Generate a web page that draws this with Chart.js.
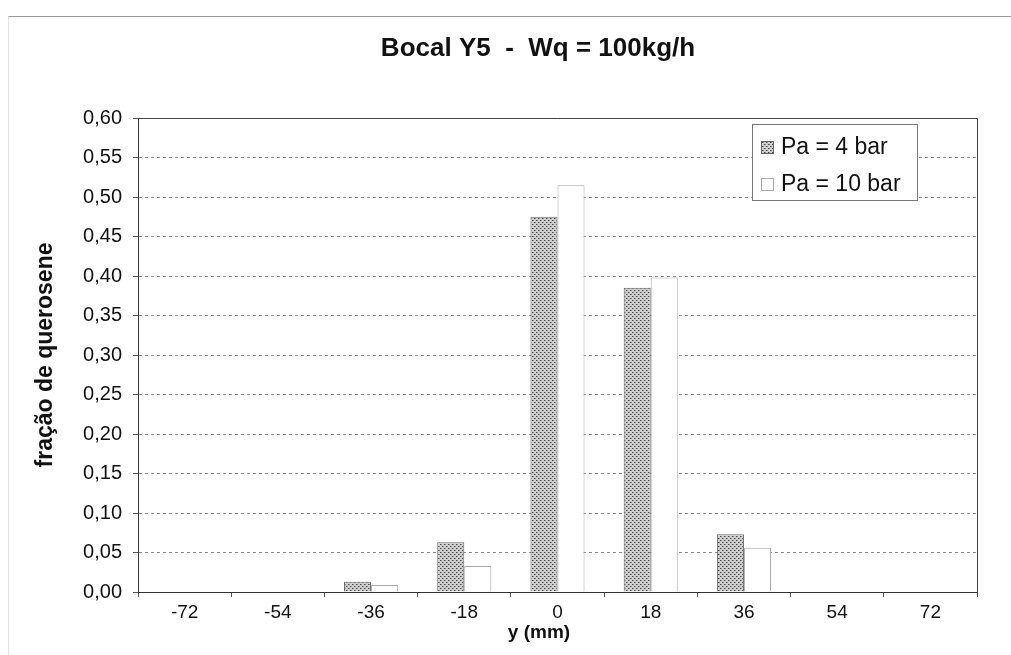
<!DOCTYPE html>
<html>
<head>
<meta charset="utf-8">
<script src="https://cdn.jsdelivr.net/npm/chart.js@4.4.0/dist/chart.umd.min.js"></script>
<style>
  html, body { margin: 0; padding: 0; background: #fff; }
  #wrap { position: relative; width: 1011px; height: 655px; }
  #frame { position: absolute; left: 8px; top: 16px; right: 0; bottom: 0;
           border-top: 1px solid #999; border-left: 1px solid #e2e2e2; }
</style>
</head>
<body>
<div id="wrap">
  <div id="frame"></div>
  <canvas id="chart" width="1011" height="655"></canvas>
</div>
<script>
// posições radiais (mm) e frações medidas
const posicoes = ['-72', '-54', '-36', '-18', '0', '18', '36', '54', '72'];
const pa4bar  = [0, 0, 0.013, 0.063, 0.475, 0.385, 0.073, 0, 0];
const pa10bar = [0, 0, 0.009, 0.033, 0.515, 0.398, 0.056, 0, 0];
const nomesSeries = ['Pa = 4 bar', 'Pa = 10 bar'];
const titulo = 'Bocal Y5  -  Wq = 100kg/h';
const tituloX = 'y (mm)';

const fonte = "'Liberation Sans', Arial, sans-serif";

// textura pontilhada para a série de 4 bar
function criaPadrao() {
    const c = document.createElement('canvas');
    c.width = 4; c.height = 4;
    const g = c.getContext('2d');
    g.fillStyle = '#cfcfcf';
    g.fillRect(0, 0, 4, 4);
    g.fillStyle = '#444';
    g.fillRect(0, 0, 1, 1);
    g.fillRect(2, 2, 1, 1);
    g.fillStyle = '#8a8a8a';
    g.fillRect(1, 0, 1, 1);
    g.fillRect(3, 2, 1, 1);
    return g.createPattern(c, 'repeat');
}
const padrao = criaPadrao();

// títulos, contorno da área de plotagem e legenda dentro do gráfico
const molduraLegenda = {
    id: 'molduraLegenda',
    afterDraw(chart) {
        const ctx = chart.ctx;
        const a = chart.chartArea;
        ctx.save();

        ctx.fillStyle = '#111';
        ctx.font = 'bold 26px ' + fonte;
        ctx.textAlign = 'center';
        ctx.textBaseline = 'middle';
        ctx.fillText(titulo, 538, 49);

        ctx.font = 'bold 19px ' + fonte;
        ctx.fillText(tituloX, 539, 633);

        ctx.strokeStyle = '#444';
        ctx.lineWidth = 1;
        ctx.beginPath();
        ctx.moveTo(a.left, a.top + 0.5);
        ctx.lineTo(a.right + 0.5, a.top + 0.5);
        ctx.lineTo(a.right + 0.5, a.bottom);
        ctx.stroke();

        // caixa da legenda
        const x = 752, y = 124, w = 165, h = 76;
        ctx.fillStyle = '#fff';
        ctx.fillRect(x, y, w, h);
        ctx.strokeStyle = '#777';
        ctx.strokeRect(x + 0.5, y + 0.5, w, h);

        ctx.font = '23px ' + fonte;
        ctx.textAlign = 'left';
        chart.data.datasets.forEach((ds, i) => {
            const cy = y + 23 + i * 37;
            ctx.fillStyle = ds.backgroundColor;
            ctx.fillRect(x + 9, cy - 6, 13, 13);
            ctx.strokeStyle = ds.borderColor;
            ctx.strokeRect(x + 9.5, cy - 5.5, 12, 12);
            ctx.fillStyle = '#111';
            ctx.fillText(ds.label, x + 29, cy + 1);
        });
        ctx.restore();
    }
};

const ctx = document.getElementById('chart').getContext('2d');
new Chart(ctx, {
    type: 'bar',
    data: {
        labels: posicoes,
        datasets: [{
            label: nomesSeries[0],
            data: pa4bar,
            backgroundColor: padrao,
            borderColor: '#666',
            borderWidth: 1,
            barPercentage: 1.0,
            categoryPercentage: 0.58
        }, {
            label: nomesSeries[1],
            data: pa10bar,
            backgroundColor: '#fff',
            borderColor: '#aaa',
            borderWidth: 1,
            barPercentage: 1.0,
            categoryPercentage: 0.58
        }]
    },
    options: {
        responsive: false,
        animation: false,
        layout: { padding: { left: 28, right: 34, top: 118, bottom: 8 } },
        plugins: {
            legend: { display: false },
            tooltip: { enabled: false }
        },
        scales: {
            x: {
                grid: { display: true, drawOnChartArea: false, offset: true, tickLength: 5, color: '#555' },
                border: { color: '#333' },
                ticks: { color: '#111', font: { family: fonte, size: 19 }, padding: 4 },
                afterFit(s) { s.height = 55; }
            },
            y: {
                min: 0,
                max: 0.6,
                ticks: {
                    stepSize: 0.05,
                    color: '#111',
                    font: { family: fonte, size: 20 },
                    padding: 11,
                    callback: v => v.toFixed(2).replace('.', ',')
                },
                grid: { color: '#888', tickLength: 5, tickBorderDash: [], tickColor: '#555' },
                border: { color: '#333', dash: [3, 3] },
                title: {
                    display: true,
                    text: 'fração de querosene',
                    color: '#111',
                    font: { family: fonte, size: 23, weight: 'bold' },
                    padding: { top: 4, bottom: 0 }
                },
                afterFit(s) { s.width = 110; }
            }
        }
    },
    plugins: [molduraLegenda]
});
</script>
</body>
</html>
